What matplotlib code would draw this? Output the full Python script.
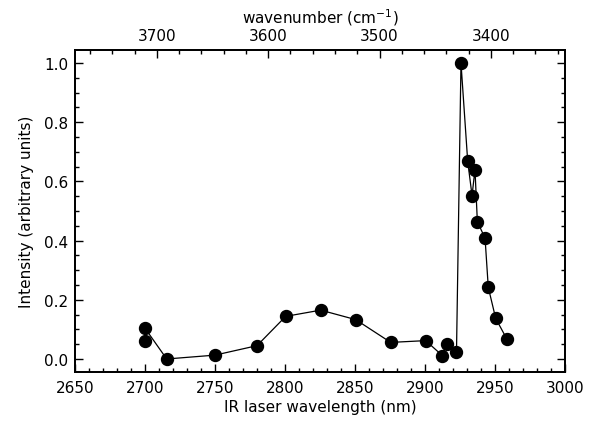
import matplotlib
matplotlib.use("Agg")
import matplotlib.pyplot as plt
from matplotlib.ticker import MultipleLocator, FormatStrFormatter
import numpy as np

# Data
wavelength_nm = [2700, 2700, 2715.5, 2750, 2780, 2800.5, 2825.5, 2850.5, 2875.5,
                 2900.5, 2912.5, 2915.5, 2922.5, 2925.7, 2930.5, 2933.6, 2935.7,
                 2937.4, 2942.9, 2945.2, 2950.5, 2958.4]
intensity = [0.062, 0.104, 0.0, 0.013, 0.045, 0.144, 0.165, 0.133, 0.056,
             0.062, 0.011, 0.051, 0.025, 1.0, 0.668, 0.552, 0.640,
             0.464, 0.408, 0.242, 0.137, 0.068]

bottom_ticks = [2650, 2700, 2750, 2800, 2850, 2900, 2950, 3000]
top_ticks = [3700, 3600, 3500, 3400]

plt.rcParams['font.family'] = ['DejaVu Sans']
fig = plt.figure(figsize=(5.89, 4.27), dpi=100)
ax = fig.add_axes([75/589, 54/427, 490/589, 322/427])

ax.plot(wavelength_nm, intensity, color='black', lw=0.9, marker='o',
        markersize=8.6, markerfacecolor='black', markeredgecolor='black')

ax.set_xlim(2650, 3000)
ax.set_ylim(-0.044, 1.044)
ax.set_xticks(bottom_ticks)
ax.xaxis.set_minor_locator(MultipleLocator(10))
ax.yaxis.set_major_locator(MultipleLocator(0.2))
ax.yaxis.set_minor_locator(MultipleLocator(0.05))
ax.yaxis.set_major_formatter(FormatStrFormatter('%.1f'))

ax.tick_params(which='both', direction='in', top=False, right=True, labelsize=11, width=1.0)
ax.tick_params(which='major', length=6, pad=6)
ax.tick_params(which='minor', length=3)
ax.tick_params(axis='y', which='major', pad=5)

for s in ax.spines.values():
    s.set_linewidth(1.3)

ax.set_xlabel('IR laser wavelength (nm)', fontsize=11, labelpad=3)
ax.set_ylabel('Intensity (arbitrary units)', fontsize=11, labelpad=7)

ax2 = ax.twiny()
ax2.set_xlim(1e7/2650, 1e7/3000)
ax2.set_xticks(top_ticks)
ax2.xaxis.set_minor_locator(MultipleLocator(20))
ax2.tick_params(which='both', direction='in', labelsize=11, width=1.0)
ax2.tick_params(which='major', length=6, pad=5)
ax2.tick_params(which='minor', length=3)
ax2.set_xlabel('wavenumber (cm$^{-1}$)', fontsize=11, labelpad=4)
for s in ax2.spines.values():
    s.set_linewidth(1.3)

fig.savefig('out.png', dpi=100)
